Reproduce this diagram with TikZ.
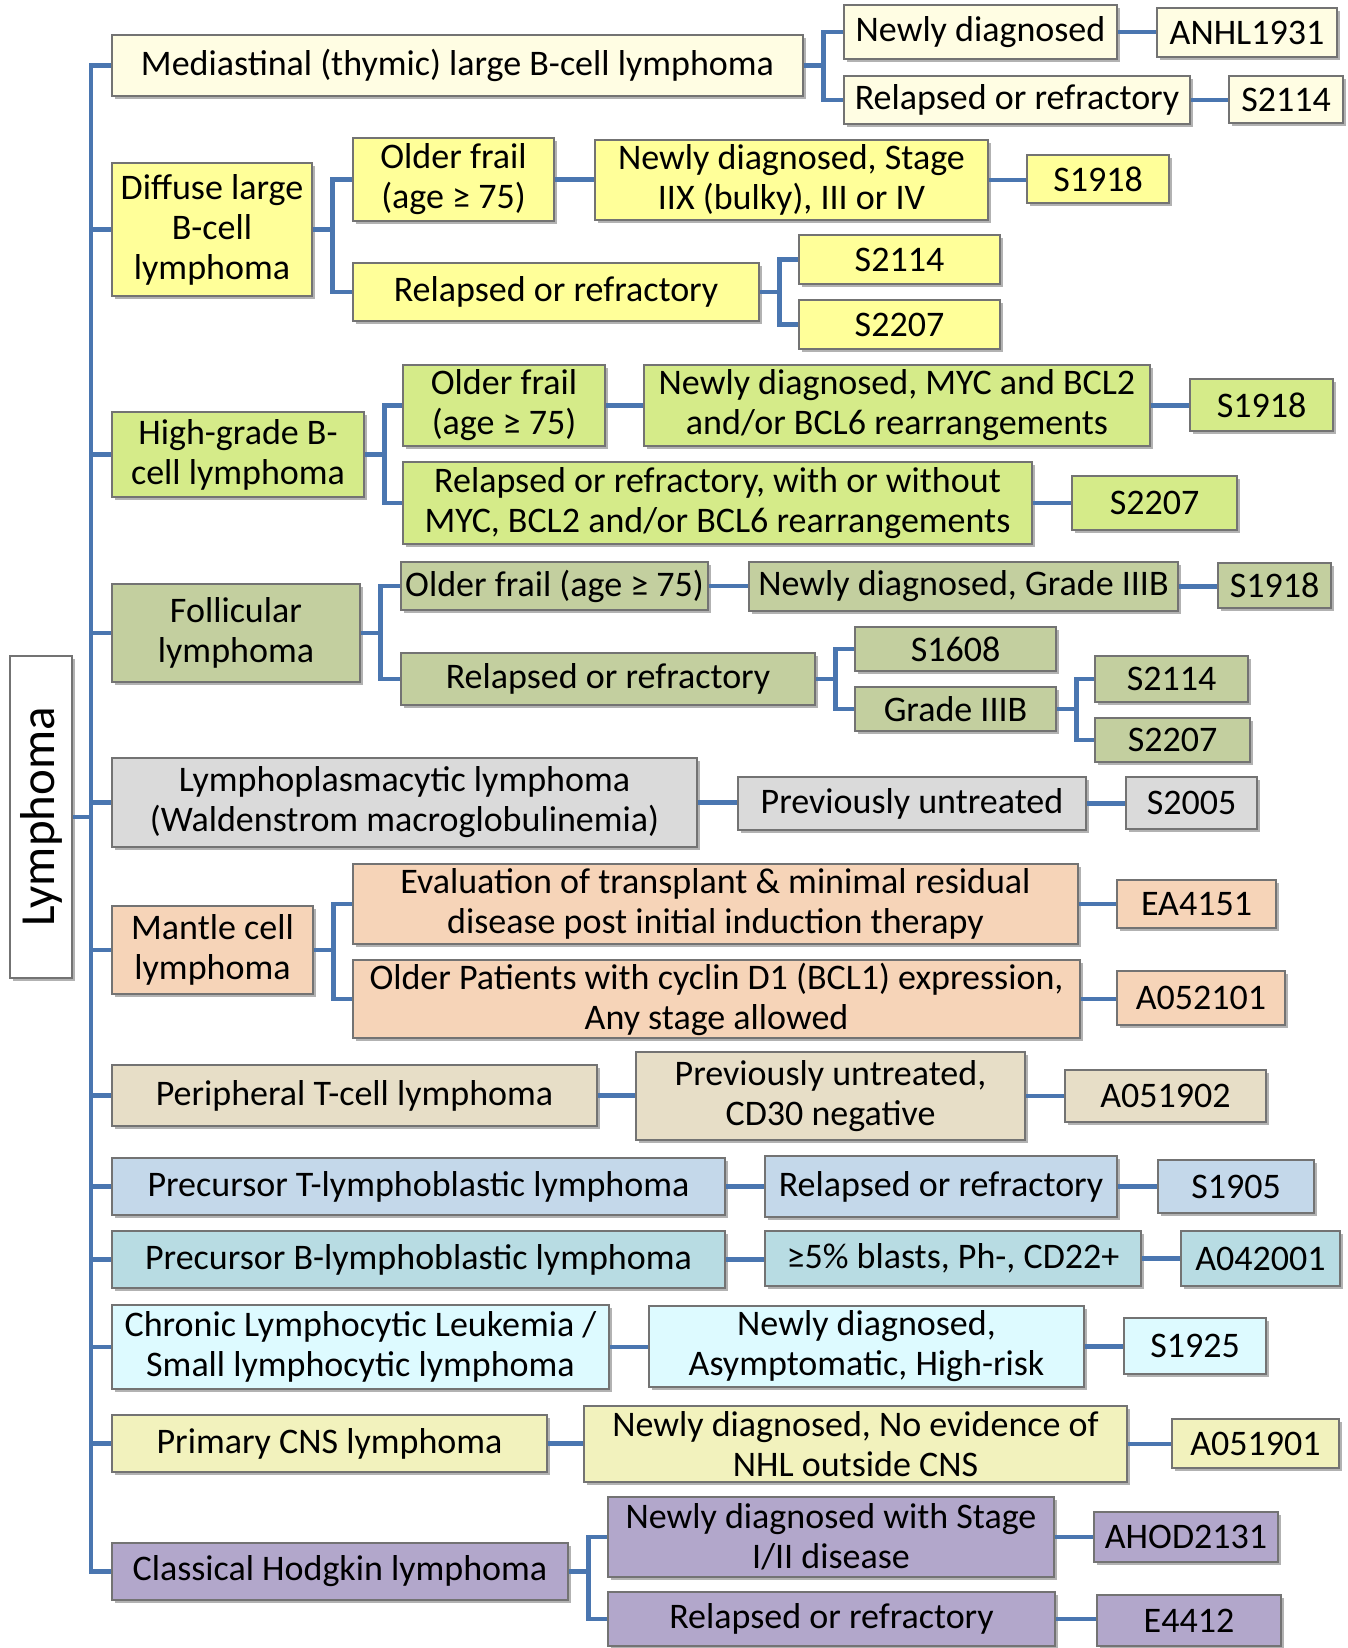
\documentclass[tikz,border=0pt]{standalone}
\usepackage{fontspec}
\setmainfont{Carlito}
\usetikzlibrary{shadows}
\definecolor{lnk}{HTML}{4A76B0}
\definecolor{cMed}{HTML}{FFFDE3}
\definecolor{cDlb}{HTML}{FFFF99}
\definecolor{cHgb}{HTML}{D5EB89}
\definecolor{cFol}{HTML}{C3CF9F}
\definecolor{cLpl}{HTML}{DADADA}
\definecolor{cMcl}{HTML}{F6D4B8}
\definecolor{cPtc}{HTML}{E7DEC7}
\definecolor{cPtl}{HTML}{C4D8EA}
\definecolor{cPbl}{HTML}{B8DCE3}
\definecolor{cCll}{HTML}{DDFAFF}
\definecolor{cPcn}{HTML}{F2F2BD}
\definecolor{cChl}{HTML}{B2A7CB}
\tikzset{
  tbox/.style={draw=black!55,line width=1.3pt,fill=#1,align=center,inner sep=0pt,
    font=\fontsize{36}{40}\selectfont,
    drop shadow={shadow xshift=2.5pt,shadow yshift=-3pt,opacity=.3,fill=black}},
  link/.style={draw=lnk,line width=4.5pt,line join=miter}
}

\begin{document}
\begin{tikzpicture}[x=1pt,y=-1pt]
  \useasboundingbox (0,0) rectangle (1347,1648);
  % root
  \node[tbox=white,rotate=90,minimum width=322,minimum height=62,font=\fontsize{49}{52}\selectfont] (root) at (41,817) {Lymphoma};
  % first level
  \node[tbox=cMed,minimum width=691,minimum height=61] (med) at (457.5,65.5) {Mediastinal (thymic) large B-cell lymphoma};
  \node[tbox=cDlb,minimum width=200,minimum height=133] (dlb) at (212,229.5) {Diffuse large\\B-cell\\lymphoma};
  \node[tbox=cHgb,minimum width=252,minimum height=85] (hgb) at (238,454.5) {High-grade B-\\cell lymphoma};
  \node[tbox=cFol,minimum width=248,minimum height=98] (fol) at (236,633) {Follicular\\lymphoma};
  \node[tbox=cLpl,minimum width=585,minimum height=89] (lpl) at (404.5,802.5) {Lymphoplasmacytic lymphoma\\(Waldenstrom macroglobulinemia)};
  \node[tbox=cMcl,minimum width=201,minimum height=88] (mcl) at (212.5,950) {Mantle cell\\lymphoma};
  \node[tbox=cPtc,minimum width=485,minimum height=61] (ptc) at (354.5,1095.5) {Peripheral T-cell lymphoma};
  \node[tbox=cPtl,minimum width=613,minimum height=57] (ptl) at (418.5,1186.5) {Precursor T-lymphoblastic lymphoma};
  \node[tbox=cPbl,minimum width=613,minimum height=57] (pbl) at (418.5,1259.5) {Precursor B-lymphoblastic lymphoma};
  \node[tbox=cCll,minimum width=497,minimum height=84] (cll) at (360.5,1347) {Chronic Lymphocytic Leukemia /\\Small lymphocytic lymphoma};
  \node[tbox=cPcn,minimum width=435,minimum height=57] (pcn) at (329.5,1443.5) {Primary CNS lymphoma};
  \node[tbox=cChl,minimum width=456,minimum height=57] (chl) at (340,1571.5) {Classical Hodgkin lymphoma};
  % mediastinal
  \node[tbox=cMed,minimum width=273,minimum height=54] (md1) at (980.5,32) {Newly diagnosed};
  \node[tbox=cMed,minimum width=180,minimum height=49] (md1s) at (1247,32.5) {ANHL1931};
  \node[tbox=cMed,minimum width=346,minimum height=48] (md2) at (1017,100) {Relapsed or refractory};
  \node[tbox=cMed,minimum width=114,minimum height=47] (md2s) at (1286,99.5) {S2114};
  % diffuse large B-cell
  \node[tbox=cDlb,minimum width=201,minimum height=83] (dlb1) at (453.5,179.5) {Older frail\\(age ≥ 75)};
  \node[tbox=cDlb,minimum width=393,minimum height=80] (dlb1a) at (791.5,180) {Newly diagnosed, Stage\\IIX (bulky), III or IV};
  \node[tbox=cDlb,minimum width=142,minimum height=48] (dlb1s) at (1098,179) {S1918};
  \node[tbox=cDlb,minimum width=406,minimum height=58] (dlb2) at (556,292) {Relapsed or refractory};
  \node[tbox=cDlb,minimum width=201,minimum height=49] (dlb2s) at (899.5,259.5) {S2114};
  \node[tbox=cDlb,minimum width=201,minimum height=49] (dlb2t) at (899.5,324.5) {S2207};
  % high-grade
  \node[tbox=cHgb,minimum width=202,minimum height=81] (hgb1) at (504,405.5) {Older frail\\(age ≥ 75)};
  \node[tbox=cHgb,minimum width=506,minimum height=81] (hgb1a) at (897,405.5) {Newly diagnosed, MYC and BCL2\\and/or BCL6 rearrangements};
  \node[tbox=cHgb,minimum width=143,minimum height=52] (hgb1s) at (1261.5,405) {S1918};
  \node[tbox=cHgb,minimum width=629,minimum height=82] (hgb2) at (717.5,503) {Relapsed or refractory, with or without\\MYC, BCL2 and/or BCL6 rearrangements};
  \node[tbox=cHgb,minimum width=165,minimum height=54] (hgb2s) at (1154.5,503) {S2207};
  % follicular
  \node[tbox=cFol,minimum width=307,minimum height=48] (fol1) at (554.5,586) {Older frail (age ≥ 75)};
  \node[tbox=cFol,minimum width=429,minimum height=49] (fol1a) at (963.5,586.5) {Newly diagnosed, Grade IIIB};
  \node[tbox=cFol,minimum width=113,minimum height=45] (fol1s) at (1274.5,585.5) {S1918};
  \node[tbox=cFol,minimum width=414,minimum height=52] (fol2) at (608,679) {Relapsed or refractory};
  \node[tbox=cFol,minimum width=201,minimum height=44] (fol2s) at (955.5,649) {S1608};
  \node[tbox=cFol,minimum width=201,minimum height=44] (fol2g) at (955.5,709) {Grade IIIB};
  \node[tbox=cFol,minimum width=153,minimum height=46] (fol2gs) at (1171.5,679) {S2114};
  \node[tbox=cFol,minimum width=155,minimum height=44] (fol2gt) at (1172.5,740) {S2207};
  % lymphoplasmacytic
  \node[tbox=cLpl,minimum width=348,minimum height=53] (lpl1) at (912,803.5) {Previously untreated};
  \node[tbox=cLpl,minimum width=131,minimum height=52] (lpl1s) at (1191.5,803) {S2005};
  % mantle cell
  \node[tbox=cMcl,minimum width=725,minimum height=80] (mcl1) at (715.5,904) {Evaluation of transplant \& minimal residual\\disease post initial induction therapy};
  \node[tbox=cMcl,minimum width=159,minimum height=48] (mcl1s) at (1196.5,904) {EA4151};
  \node[tbox=cMcl,minimum width=727,minimum height=78] (mcl2) at (716.5,999) {Older Patients with cyclin D1 (BCL1) expression,\\Any stage allowed};
  \node[tbox=cMcl,minimum width=168,minimum height=54] (mcl2s) at (1201,998) {A052101};
  % peripheral T-cell
  \node[tbox=cPtc,minimum width=389,minimum height=88] (ptc1) at (830.5,1096) {Previously untreated,\\CD30 negative};
  \node[tbox=cPtc,minimum width=201,minimum height=52] (ptc1s) at (1165.5,1096) {A051902};
  % precursor T / B
  \node[tbox=cPtl,minimum width=352,minimum height=61] (ptl1) at (941,1186.5) {Relapsed or refractory};
  \node[tbox=cPtl,minimum width=156,minimum height=53] (ptl1s) at (1236,1186.5) {S1905};
  \node[tbox=cPbl,minimum width=376,minimum height=55] (pbl1) at (953,1258.5) {≥5\% blasts, Ph-, CD22+};
  \node[tbox=cPbl,minimum width=159,minimum height=55] (pbl1s) at (1260.5,1258.5) {A042001};
  % CLL
  \node[tbox=cCll,minimum width=435,minimum height=81] (cll1) at (866.5,1346.5) {Newly diagnosed,\\Asymptomatic, High-risk};
  \node[tbox=cCll,minimum width=142,minimum height=56] (cll1s) at (1195,1346) {S1925};
  % primary CNS
  \node[tbox=cPcn,minimum width=543,minimum height=76] (pcn1) at (855.5,1444) {Newly diagnosed, No evidence of\\NHL outside CNS};
  \node[tbox=cPcn,minimum width=167,minimum height=49] (pcn1s) at (1255.5,1443.5) {A051901};
  % classical Hodgkin
  \node[tbox=cChl,minimum width=446,minimum height=80] (chl1) at (831,1537) {Newly diagnosed with Stage\\I/II disease};
  \node[tbox=cChl,minimum width=184,minimum height=50] (chl1s) at (1186,1537) {AHOD2131};
  \node[tbox=cChl,minimum width=447,minimum height=54] (chl2) at (831.5,1619) {Relapsed or refractory};
  \node[tbox=cChl,minimum width=184,minimum height=51] (chl2s) at (1189,1620.5) {E4412};

  % connectors
  \coordinate (tk) at (91,0);
  \draw[link] (med.west) -| (tk |- chl.west) -- (chl.west);
  \draw[link] (root.south) -- (root.south -| tk);
  \foreach \n in {dlb,hgb,fol,lpl,mcl,ptc,ptl,pbl,cll,pcn}
    \draw[link] (tk |- \n.west) -- (\n.west);

  \draw[link] (med.east) -- ++(20,0) coordinate (bMed);
  \draw[link] (md1.west) -| (bMed) |- (md2.west);
  \draw[link] (md1.east) -- (md1.east -| md1s.west);
  \draw[link] (md2.east) -- (md2.east -| md2s.west);

  \draw[link] (dlb.east) -- ++(20,0) coordinate (bDlb);
  \draw[link] (dlb1.west) -| (bDlb) |- (dlb2.west);
  \draw[link] (dlb1.east) -- (dlb1.east -| dlb1a.west);
  \draw[link] (dlb1a.east) -- (dlb1a.east -| dlb1s.west);
  \draw[link] (dlb2.east) -- ++(20,0) coordinate (bDlb2);
  \draw[link] (dlb2s.west) -| (bDlb2) |- (dlb2t.west);

  \draw[link] (hgb.east) -- ++(20,0) coordinate (bHgb);
  \draw[link] (hgb1.west) -| (bHgb) |- (hgb2.west);
  \draw[link] (hgb1.east) -- (hgb1.east -| hgb1a.west);
  \draw[link] (hgb1a.east) -- (hgb1a.east -| hgb1s.west);
  \draw[link] (hgb2.east) -- (hgb2.east -| hgb2s.west);

  \draw[link] (fol.east) -- ++(20,0) coordinate (bFol);
  \draw[link] (fol1.west) -| (bFol) |- (fol2.west);
  \draw[link] (fol1.east) -- (fol1.east -| fol1a.west);
  \draw[link] (fol1a.east) -- (fol1a.east -| fol1s.west);
  \draw[link] (fol2.east) -- ++(20,0) coordinate (bFol2);
  \draw[link] (fol2s.west) -| (bFol2) |- (fol2g.west);
  \draw[link] (fol2g.east) -- ++(20,0) coordinate (bFolg);
  \draw[link] (fol2gs.west) -| (bFolg) |- (fol2gt.west);

  \draw[link] (lpl.east) -- (lpl.east -| lpl1.west);
  \draw[link] (lpl1.east) -- (lpl1.east -| lpl1s.west);

  \draw[link] (mcl.east) -- ++(20,0) coordinate (bMcl);
  \draw[link] (mcl1.west) -| (bMcl) |- (mcl2.west);
  \draw[link] (mcl1.east) -- (mcl1.east -| mcl1s.west);
  \draw[link] (mcl2.east) -- (mcl2.east -| mcl2s.west);

  \draw[link] (ptc.east) -- (ptc.east -| ptc1.west);
  \draw[link] (ptc1.east) -- (ptc1.east -| ptc1s.west);
  \draw[link] (ptl.east) -- (ptl.east -| ptl1.west);
  \draw[link] (ptl1.east) -- (ptl1.east -| ptl1s.west);
  \draw[link] (pbl.east) -- (pbl.east -| pbl1.west);
  \draw[link] (pbl1.east) -- (pbl1.east -| pbl1s.west);
  \draw[link] (cll.east) -- (cll.east -| cll1.west);
  \draw[link] (cll1.east) -- (cll1.east -| cll1s.west);
  \draw[link] (pcn.east) -- (pcn.east -| pcn1.west);
  \draw[link] (pcn1.east) -- (pcn1.east -| pcn1s.west);

  \draw[link] (chl.east) -- ++(20,0) coordinate (bChl);
  \draw[link] (chl1.west) -| (bChl) |- (chl2.west);
  \draw[link] (chl1.east) -- (chl1.east -| chl1s.west);
  \draw[link] (chl2.east) -- (chl2.east -| chl2s.west);
\end{tikzpicture}
\end{document}
